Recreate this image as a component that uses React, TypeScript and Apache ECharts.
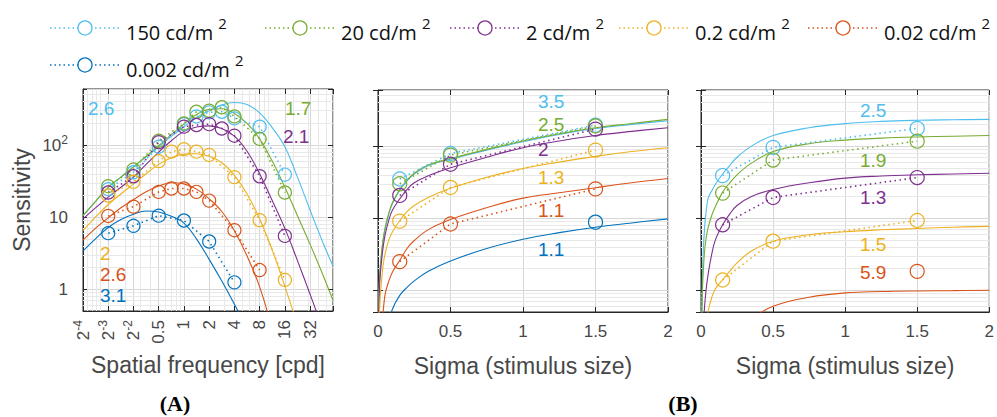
import React, { useEffect, useRef } from 'react';
import * as echarts from 'echarts';

// Adapting luminance levels (cd/m²) and their line colours
const LUMINANCES = ['150', '20', '2', '0.2', '0.02', '0.002'];
const COLORS = ['#4DBEEE', '#77AC30', '#7E2F8E', '#EDB120', '#D95319', '#0072BD'];

// (A) measured sensitivity vs spatial frequency [cpd]
const FREQ_HIGH = [0.125, 0.25, 0.5, 1, 1.41, 2, 2.83, 4, 8, 16];
const FREQ_MID = [0.125, 0.25, 0.5, 0.71, 1, 1.41, 2, 4, 8, 16];
const FREQ_LOW = [0.125, 0.25, 0.5, 0.71, 1, 1.41, 2, 4, 8];
const FREQ_LOWEST = [0.125, 0.25, 0.5, 1, 2, 4];

const SENS_150 = [24.5, 42, 95, 195, 250, 285, 290, 235, 180, 39];
const SENS_20 = [27, 46, 115, 200, 290, 300, 335, 250, 122, 22];
const SENS_2 = [22, 37, 110, 180, 190, 195, 170, 135, 37, 5.5];
const SENS_02 = [20, 31, 60, 81, 88, 81, 73, 36, 9.1, 1.35];
const SENS_002 = [10.4, 14, 22.4, 25, 25, 22.5, 17, 6.6, 1.85];
const SENS_0002 = [6.0, 7.6, 10.5, 9, 4.6, 1.25];

// (A) model fit, sampled every half octave
const FIT_FREQ = [0.0625, 0.088, 0.125, 0.177, 0.25, 0.354, 0.5, 0.707, 1, 1.41, 2, 2.83, 4, 5.66, 8, 11.3, 16, 22.6, 32, 45.3, 60];
const FIT_150 = [10.5, 16.5, 26, 36, 50, 69, 95, 132, 180, 240, 300, 360, 390, 365, 280, 175, 95, 36, 12.5, 4.5, 2.1];
const FIT_20 = [10.5, 16.5, 26, 36, 50, 70, 98, 140, 195, 265, 315, 320, 275, 200, 122, 60, 26, 10.5, 4.2, 1.6, 0.7];
const FIT_2 = [9.5, 13.5, 19, 26, 36, 54, 80, 115, 155, 178, 185, 170, 133, 82, 40, 17, 7, 2.5, 0.85, 0.28];
const FIT_02 = [6.5, 10, 15, 21, 29, 40, 54, 67, 75, 76, 70, 57, 38, 21, 9.5, 3.5, 1.1, 0.32];
const FIT_002 = [4.8, 7, 9.8, 13.5, 17.5, 22.5, 27, 30, 29, 24.5, 18, 12, 6.5, 2.9, 1.08, 0.28];
const FIT_0002 = [3.4, 5, 7.2, 9.3, 11, 12.2, 11.8, 10.3, 8.3, 5.0, 2.6, 1.3, 0.62, 0.28];

// (B) measured sensitivity vs stimulus size
const SIGMA = [0.15, 0.5, 1.5];
const MID_SENS_150 = [35, 79, 195];
const MID_SENS_20 = [30, 75, 190];
const MID_SENS_2 = [20.7, 56, 172];
const MID_SENS_02 = [9.1, 26.7, 88];
const MID_SENS_002 = [2.5, 8.3, 25.5];
const MID_SENS_0002 = [null, null, 8.8];

const RIGHT_SENS_150 = [39, 96, 176];
const RIGHT_SENS_20 = [22.3, 64, 117];
const RIGHT_SENS_2 = [8.1, 19.4, 36.6];
const RIGHT_SENS_02 = [1.39, 4.8, 9.3];
const RIGHT_SENS_002 = [null, null, 1.83];

// (B) model fits over stimulus size
const FIT_SIGMA = [0.004, 0.006, 0.01, 0.015, 0.025, 0.035, 0.05, 0.075, 0.1, 0.15, 0.2, 0.25, 0.35, 0.5, 0.75, 1, 1.25, 1.5, 1.75, 2];
const MID_FIT_150 = [0.45, 0.75, 1.3, 2.0, 3.3, 4.9, 7.3, 11.5, 16, 24.5, 33, 41, 54, 66, 88, 115, 145, 175, 200, 225];
const MID_FIT_20 = [0.45, 0.75, 1.35, 2.05, 3.4, 5.0, 7.5, 11.8, 16.5, 25, 33.5, 42, 55, 67, 90, 118, 148, 180, 206, 235];
const MID_FIT_2 = [0.3, 0.55, 1.05, 1.6, 2.6, 3.9, 6, 9.5, 13, 18.5, 25, 31, 39, 50, 70, 95, 118, 140, 160, 180];
const MID_FIT_02 = [null, null, 0.45, 0.8, 1.4, 2.2, 3.3, 5, 6.5, 9.3, 12.3, 15, 19.5, 26, 37, 49, 60, 72, 84, 95];
const MID_FIT_002 = [null, null, null, null, 0.35, 0.5, 0.9, 1.35, 1.8, 2.6, 3.8, 4.9, 7, 9.6, 14, 19, 22.5, 26.5, 31, 35.5];
const MID_FIT_0002 = [null, null, null, null, null, null, null, 0.35, 0.55, 0.85, 1.1, 1.35, 1.85, 2.55, 3.8, 5.1, 6.3, 7.5, 8.6, 9.8];

const RIGHT_FIT_150 = [0.3, 0.5, 1.4, 3.2, 7.5, 12, 19, 24, 29.5, 41, 54, 70, 100, 140, 180, 205, 220, 228, 232, 235];
const RIGHT_FIT_20 = [0.3, 0.5, 1.0, 1.7, 3.5, 5.2, 7.5, 11, 14.5, 23, 31, 40, 58, 84, 108, 121, 129, 134, 137, 140];
const RIGHT_FIT_2 = [null, null, null, 0.3, 0.6, 1.0, 1.7, 3.2, 5, 8.1, 11.5, 15, 20, 25, 31, 36, 38.5, 40, 41, 42];
const RIGHT_FIT_02 = [null, null, null, null, null, 0.35, 0.52, 0.8, 1.05, 1.4, 1.85, 2.4, 3.5, 4.8, 5.9, 6.5, 6.9, 7.2, 7.5, 7.7];
const RIGHT_FIT_002 = [null, null, null, null, null, null, null, null, null, null, null, null, 0.4, 0.6, 0.8, 0.92, 0.96, 0.98, 0.99, 1.0];

// Fitted exponent annotations, one per luminance
const NOTES_A = ['2.6', '1.7', '2.1', '2', '2.6', '3.1'];
const NOTES_MID = ['3.5', '2.5', '2', '1.3', '1.1', '1.1'];
const NOTES_RIGHT = ['2.5', '1.9', '1.3', '1.5', '5.9'];

// Minor grid positions of the log axes (2..9 × 10^k)
const MINOR_Y = [0.6, 0.7, 0.8, 0.9, 2, 3, 4, 5, 6, 7, 8, 9, 20, 30, 40, 50, 60, 70, 80, 90, 200, 300, 400, 500];
const MINOR_X_A = [0.07, 0.08, 0.09, 0.1, 0.2, 0.3, 0.4, 0.6, 0.7, 0.8, 0.9, 3, 5, 6, 7, 9, 10, 20, 30, 40, 50];

const SENS_A = [SENS_150, SENS_20, SENS_2, SENS_02, SENS_002, SENS_0002];
const FREQ_A = [FREQ_HIGH, FREQ_HIGH, FREQ_HIGH, FREQ_MID, FREQ_LOW, FREQ_LOWEST];
const FIT_A = [FIT_150, FIT_20, FIT_2, FIT_02, FIT_002, FIT_0002];
const MID_SENS = [MID_SENS_150, MID_SENS_20, MID_SENS_2, MID_SENS_02, MID_SENS_002, MID_SENS_0002];
const MID_FIT = [MID_FIT_150, MID_FIT_20, MID_FIT_2, MID_FIT_02, MID_FIT_002, MID_FIT_0002];
const RIGHT_SENS = [RIGHT_SENS_150, RIGHT_SENS_20, RIGHT_SENS_2, RIGHT_SENS_02, RIGHT_SENS_002];
const RIGHT_FIT = [RIGHT_FIT_150, RIGHT_FIT_20, RIGHT_FIT_2, RIGHT_FIT_02, RIGHT_FIT_002];

const AXIS_COLOR = '#262626';
const TEXT_COLOR = '#474747';
const MAJOR_GRID = '#d6d6d6';
const MINOR_GRID = '#e8e8e8';
const SANS = '"Liberation Sans", Arial, Helvetica, sans-serif';

const pairs = (xs: number[], ys: (number | null)[]) =>
  ys.map((y, i) => [xs[i], y]).filter((p) => p[1] != null);

const isPow = (v: number, base: number) => {
  const e = Math.log(v) / Math.log(base);
  return Math.abs(e - Math.round(e)) < 1e-6 ? Math.round(e) : null;
};

const supRich = {
  a: { fontSize: 17, lineHeight: 22, color: TEXT_COLOR, fontFamily: SANS },
  s: { fontSize: 12, lineHeight: 12, verticalAlign: 'top', color: TEXT_COLOR, fontFamily: SANS },
};

const freqLabel = (v: number) => {
  const e = isPow(v, 2);
  if (e == null) return '';
  if (e <= -2) return `{a|2}{s|${e}}`;
  return String(Math.pow(2, e));
};

const sensLabel = (v: number) => {
  const e = isPow(v, 10);
  if (e == null) return '';
  if (e === 2) return '{a|10}{s|2}';
  return String(Math.pow(10, e));
};

const nameStyle = { fontSize: 23, color: TEXT_COLOR, fontFamily: SANS };

function buildOption() {
  const grids = [
    { left: 83, top: 89, width: 250, height: 222 },
    { left: 378, top: 90, width: 290, height: 222 },
    { left: 701, top: 90, width: 290, height: 222 },
  ].map((g) => ({ ...g, show: true, borderColor: AXIS_COLOR, borderWidth: 1, backgroundColor: 'transparent' }));

  const tick = { inside: true, length: 5, lineStyle: { color: AXIS_COLOR } };
  const line = { show: true, onZero: false, lineStyle: { color: AXIS_COLOR } };
  const split = { show: true, lineStyle: { color: MAJOR_GRID, width: 1 } };

  const xMain = [
    {
      type: 'log', logBase: 2, min: 0.0625, max: 60, splitNumber: 10, gridIndex: 0,
      axisLine: line, axisTick: tick, splitLine: split,
      axisLabel: { rotate: 90, margin: 9, fontSize: 17, color: TEXT_COLOR, fontFamily: SANS, formatter: freqLabel, rich: supRich },
      name: 'Spatial frequency [cpd]', nameLocation: 'middle', nameGap: 42, nameTextStyle: nameStyle,
    },
    ...[1, 2].map((g) => ({
      type: 'value', min: 0, max: 2, interval: 0.5, gridIndex: g,
      axisLine: line, axisTick: tick, splitLine: split,
      axisLabel: { margin: 11, fontSize: 17, color: TEXT_COLOR, fontFamily: SANS },
      name: 'Sigma (stimulus size)', nameLocation: 'middle', nameGap: 42, nameTextStyle: nameStyle,
    })),
  ];
  const xTop = xMain.map((a: any, g) => ({
    type: a.type, logBase: a.logBase, min: a.min, max: a.max, splitNumber: a.splitNumber, interval: a.interval,
    gridIndex: g, position: 'top', axisLine: { show: false }, axisTick: tick, axisLabel: { show: false }, splitLine: { show: false },
  }));

  const yMain = [0, 1, 2].map((g) => ({
    type: 'log', logBase: 10, min: 0.5, max: 600, gridIndex: g,
    axisLine: line, axisTick: tick, splitLine: split,
    axisLabel: g === 0
      ? { margin: 15, fontSize: 17, color: TEXT_COLOR, fontFamily: SANS, formatter: sensLabel, rich: supRich }
      : { show: false },
    ...(g === 0
      ? { name: 'Sensitivity', nameLocation: 'middle', nameGap: 50, nameTextStyle: nameStyle }
      : {}),
  }));
  const yRight = [0, 1, 2].map((g) => ({
    type: 'log', logBase: 10, min: 0.5, max: 600, gridIndex: g, position: 'right',
    axisLine: { show: false }, axisTick: tick, axisLabel: { show: false }, splitLine: { show: false },
  }));

  const series: any[] = [];

  // light minor grid lines drawn through markLine (kept beneath the curves)
  const minorLines = (xs: number[]) => [
    ...MINOR_Y.map((v) => ({ yAxis: v })),
    ...xs.map((v) => ({ xAxis: v })),
  ];
  [0, 1, 2].forEach((g) => {
    series.push({
      type: 'line', xAxisIndex: g, yAxisIndex: g, data: [], silent: true, z: 1,
      lineStyle: { width: 0 },
      markLine: {
        z: 1, silent: true, symbol: ['none', 'none'], label: { show: false }, animation: false,
        lineStyle: { color: MINOR_GRID, width: 1, type: 'solid' },
        emphasis: { disabled: true },
        data: minorLines(g === 0 ? MINOR_X_A : []),
      },
    });
  });

  const fitSeries = (g: number, xs: number[], ys: (number | null)[], color: string) => ({
    type: 'line', xAxisIndex: g, yAxisIndex: g, data: pairs(xs, ys), smooth: 0.4,
    symbol: 'none', silent: true, z: 3,
    lineStyle: { color, width: 1.1, type: 'solid' },
  });
  const pointSeries = (g: number, name: string, xs: number[], ys: (number | null)[], color: string, size: number) => ({
    type: 'line', name, xAxisIndex: g, yAxisIndex: g, data: pairs(xs, ys), z: 4,
    symbol: 'circle', symbolSize: size, showAllSymbol: true,
    itemStyle: { color: 'rgba(0,0,0,0)', borderColor: color, borderWidth: 1.2 },
    lineStyle: { color, width: 1.6, type: [1.5, 3.5] },
  });

  LUMINANCES.forEach((lum, i) => {
    const name = `${lum} cd/m²`;
    const c = COLORS[i];
    series.push(fitSeries(0, FIT_FREQ, FIT_A[i], c));
    series.push(pointSeries(0, name, FREQ_A[i], SENS_A[i], c, 13));
    series.push(fitSeries(1, FIT_SIGMA, MID_FIT[i], c));
    series.push(pointSeries(1, name, SIGMA, MID_SENS[i], c, 14));
    if (i < RIGHT_FIT.length) {
      series.push(fitSeries(2, FIT_SIGMA, RIGHT_FIT[i], c));
      series.push(pointSeries(2, name, SIGMA, RIGHT_SENS[i], c, 14));
    }
  });

  // legend: dotted line with an open circle, then "<lum> cd/m²"
  const legendSlots = [[50, 28], [265, 28], [450, 28], [619, 28], [808, 28], [50, 65]];
  const graphic: any[] = [];
  LUMINANCES.forEach((lum, i) => {
    const [x0, y0] = legendSlots[i];
    const c = COLORS[i];
    graphic.push({
      type: 'line', silent: true,
      shape: { x1: x0, y1: y0, x2: x0 + 70, y2: y0 },
      style: { stroke: c, lineWidth: 1.5, lineDash: [1.5, 3] },
    });
    graphic.push({
      type: 'circle', silent: true,
      shape: { cx: x0 + 35, cy: y0, r: 7 },
      style: { fill: '#fff', stroke: c, lineWidth: 1.3 },
    });
    graphic.push({
      type: 'text', silent: true, x: x0 + 76, y: y0 + 4,
      style: {
        text: `{t|${lum} cd/m }{s|2}`,
        verticalAlign: 'middle', textVerticalAlign: 'middle',
        rich: {
          t: { fontSize: 20, lineHeight: 34, fontFamily: '"Open Sans", sans-serif', fill: '#111' },
          s: { fontSize: 15, lineHeight: 14, verticalAlign: 'top', fontFamily: '"Open Sans", sans-serif', fill: '#111' },
        },
      },
    });
  });

  const noteSlots = [
    [[88, 108], [285, 108], [283, 136], [100, 253], [100, 274], [100, 295]],
    [[538, 101], [538, 124], [538, 149], [538, 177], [538, 210], [538, 249]],
    [[860, 110], [860, 160], [860, 197], [860, 244], [860, 272]],
  ];
  [NOTES_A, NOTES_MID, NOTES_RIGHT].forEach((notes, p) => {
    notes.forEach((t, i) => {
      const [x, y] = noteSlots[p][i];
      graphic.push({
        type: 'text', silent: true, x, y, z: 10,
        style: {
          text: t, fill: COLORS[i], fontSize: 19, fontFamily: SANS,
          verticalAlign: 'middle', textVerticalAlign: 'middle',
        },
      });
    });
  });

  [['(A)', 175], ['(B)', 683]].forEach(([t, x]) => {
    graphic.push({
      type: 'text', silent: true, x, y: 403,
      style: {
        text: t, fill: '#000', fontSize: 22, fontWeight: 'bold', fontFamily: '"Liberation Serif", "Times New Roman", serif',
        align: 'center', textAlign: 'center', verticalAlign: 'middle', textVerticalAlign: 'middle',
      },
    });
  });

  return {
    animation: false,
    backgroundColor: '#fff',
    grid: grids,
    xAxis: [...xMain, ...xTop],
    yAxis: [...yMain, ...yRight],
    series,
    graphic,
  };
}

export default function App() {
  const ref = useRef<HTMLDivElement>(null);
  useEffect(() => {
    if (!ref.current) return;
    const chart = echarts.init(ref.current, undefined, { renderer: 'svg' });
    chart.setOption(buildOption() as any);
    return () => chart.dispose();
  }, []);
  return (
    <div
      ref={ref}
      style={{ position: 'absolute', left: 0, top: 0, width: 997, height: 417, background: '#fff' }}
    />
  );
}
